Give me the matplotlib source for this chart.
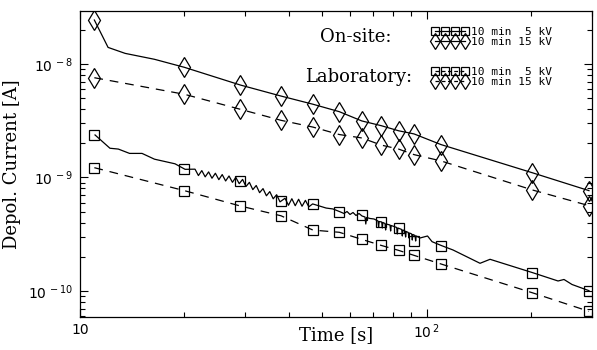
import matplotlib
matplotlib.use('Agg')
import matplotlib.pyplot as plt
from matplotlib.lines import Line2D
from matplotlib.ticker import FixedLocator, FixedFormatter, NullFormatter

# ---------------- data ----------------
t_mark = [11, 20, 29, 38, 47, 56, 65, 74, 83, 92, 110, 202, 294]

onsite_15kv = [2.44e-8, 9.35e-9, 6.53e-9, 5.22e-9, 4.42e-9, 3.80e-9, 3.15e-9,
               2.86e-9, 2.58e-9, 2.42e-9, 1.95e-9, 1.10e-9, 7.66e-10]
lab_15kv = [7.57e-9, 5.41e-9, 3.99e-9, 3.19e-9, 2.78e-9, 2.39e-9, 2.23e-9,
            1.93e-9, 1.78e-9, 1.59e-9, 1.40e-9, 7.76e-10, 5.65e-10]
onsite_5kv = [2.37e-9, 1.18e-9, 9.31e-10, 6.15e-10, 5.85e-10, 5.00e-10, 4.68e-10,
              4.08e-10, 3.57e-10, 2.76e-10, 2.50e-10, 1.45e-10, 1.00e-10]
lab_5kv = [1.22e-9, 7.66e-10, 5.61e-10, 4.60e-10, 3.44e-10, 3.29e-10, 2.85e-10,
           2.52e-10, 2.28e-10, 2.06e-10, 1.73e-10, 9.64e-11, 6.62e-11]

# extra early points of the continuous on-site 15 kV record
onsite_15kv_early_t = [12.05, 13.5, 16.4]
onsite_15kv_early_i = [1.40e-8, 1.24e-8, 1.10e-8]

# continuous on-site 5 kV record
onsite_5kv_line_t = [
    11.05, 12.2, 12.9, 13.9, 15.1, 16.4, 18.8, 20.1,
    21.47, 21.96, 22.46, 22.97, 23.50, 24.03, 24.58, 25.15, 25.72, 26.31,
    26.91, 27.53, 28.15, 28.80, 29.45, 30.12, 30.81, 31.52, 32.24, 32.97,
    33.73, 34.50, 35.28, 36.09, 36.92, 37.76,
    39.04, 39.94, 40.85, 41.78, 42.73, 43.71, 44.70, 45.72, 46.9,
    51.3, 53.7, 56.15, 57.77, 58.93, 60.12, 61.33, 62.56, 63.82, 65.10,
    66.41, 66.76, 67.12, 68.65, 70.50, 72.40, 72.68, 72.98, 74.21, 74.51,
    74.80, 75.86, 76.16, 76.46, 78.42, 78.73, 79.04, 80.52, 81.98, 82.31,
    82.64, 84.75, 85.09, 85.43, 86.63, 86.97, 87.32, 88.54, 88.89, 89.25,
    90.57, 90.92, 91.29, 92.58, 92.96, 93.33, 95.72, 100.6, 103.7, 110.6,
    119.2, 142.6, 152.4, 202.4, 239.4, 249.1, 262.7, 294.1]
onsite_5kv_line_i = [
    2.37e-9, 1.81e-9, 1.78e-9, 1.63e-9, 1.63e-9, 1.45e-9, 1.32e-9, 1.18e-9,
    1.184e-9, 1.040e-9, 1.150e-9, 1.013e-9, 1.120e-9, 9.85e-10, 1.090e-9,
    9.57e-10, 1.061e-9, 9.32e-10, 1.031e-9, 9.07e-10, 1.002e-9, 8.82e-10,
    9.62e-10, 8.33e-10, 9.06e-10, 7.82e-10, 8.50e-10, 7.35e-10, 7.98e-10,
    6.90e-10, 7.51e-10, 6.49e-10, 7.05e-10, 6.10e-10,
    6.56e-10, 5.69e-10, 6.50e-10, 5.64e-10, 6.43e-10, 5.58e-10, 6.29e-10,
    5.52e-10, 5.85e-10,
    5.38e-10, 5.28e-10, 5.00e-10, 4.818e-10, 5.016e-10, 4.721e-10, 4.916e-10,
    4.627e-10, 4.818e-10, 4.580e-10,
    4.487e-10, 3.892e-10, 4.442e-10, 4.353e-10, 4.309e-10, 4.137e-10, 3.663e-10,
    4.095e-10, 4.054e-10, 3.589e-10, 4.013e-10, 3.932e-10, 3.447e-10, 3.892e-10,
    3.814e-10, 3.378e-10, 3.775e-10, 3.700e-10, 3.626e-10, 3.178e-10, 3.589e-10,
    3.482e-10, 3.052e-10, 3.447e-10, 3.378e-10, 2.990e-10, 3.343e-10, 3.276e-10,
    2.931e-10, 3.243e-10, 3.178e-10, 2.813e-10, 3.146e-10, 3.083e-10, 2.757e-10,
    3.052e-10, 2.931e-10, 3.052e-10, 2.718e-10, 2.506e-10,
    2.297e-10, 1.754e-10, 1.902e-10, 1.449e-10, 1.225e-10, 1.263e-10, 1.141e-10,
    1.006e-10]

xtick_vals = [10, 100]
xtick_labels = ['10', r'$10^{\,2}$']
ytick_vals = [1e-10, 1e-9, 1e-8]
ytick_labels = [r'$10^{\,-10}$', r'$10^{\,-9}$', r'$10^{\,-8}$']

legend_labels = ['10 min  5 kV', '10 min 15 kV']

# ---------------- figure ----------------
fig = plt.figure(figsize=(5.97, 3.5), dpi=100)
ax = fig.add_axes([80 / 597, 33 / 350, 512 / 597, 306 / 350])
ax.set_xscale('log')
ax.set_yscale('log')
ax.set_xlim(10, 300)
ax.set_ylim(5.9e-11, 2.93e-8)

lw = 0.9
dash = (0, (7, 5.5))
sq = dict(marker='s', ms=7.2, mfc='none', mec='k', mew=0.9)
dm = dict(marker='d', ms=10.5, mfc='none', mec='k', mew=0.9)

# on-site (solid)
ax.plot([t_mark[0]] + onsite_15kv_early_t + t_mark[1:],
        [onsite_15kv[0]] + onsite_15kv_early_i + onsite_15kv[1:],
        color='k', lw=lw, ls='-')
ax.plot(t_mark, onsite_15kv, ls='none', **dm)
ax.plot(onsite_5kv_line_t, onsite_5kv_line_i, color='k', lw=lw, ls='-')
ax.plot(t_mark, onsite_5kv, ls='none', **sq)

# laboratory (dashed)
ax.plot(t_mark, lab_15kv, color='k', lw=lw, ls=dash, **dm)
ax.plot(t_mark, lab_5kv, color='k', lw=lw, ls=dash, **sq)

# ticks
ax.xaxis.set_major_locator(FixedLocator(xtick_vals))
ax.xaxis.set_major_formatter(FixedFormatter(xtick_labels))
ax.yaxis.set_major_locator(FixedLocator(ytick_vals))
ax.yaxis.set_major_formatter(FixedFormatter(ytick_labels))
ax.xaxis.set_minor_formatter(NullFormatter())
ax.yaxis.set_minor_formatter(NullFormatter())
ax.tick_params(which='both', direction='in', top=True, right=True, width=0.8)
ax.tick_params(which='major', length=6)
ax.tick_params(which='minor', length=3.5)
ax.tick_params(axis='x', which='major', pad=4, labelsize=10)
ax.tick_params(axis='y', which='major', pad=5, labelsize=10)
for s in ax.spines.values():
    s.set_linewidth(0.9)

serif = ['DejaVu Serif']
ax.set_xlabel('Time [s]', fontsize=13, family=serif)
ax.xaxis.set_label_coords(0.5, -0.028)
ax.xaxis.label.set_va('top')
ax.set_ylabel('Depol. Current [A]', fontsize=13, family=serif)
ax.yaxis.set_label_coords(-0.115, 0.5)

# legends
fs_leg = 8
mono = {'family': 'DejaVu Sans Mono', 'size': fs_leg}
h_on = [Line2D([], [], color='k', lw=lw, ls='-', **sq),
        Line2D([], [], color='k', lw=lw, ls='-', **dm)]
h_lab = [Line2D([], [], color='k', lw=lw, ls=(0, (3, 2)), **sq),
         Line2D([], [], color='k', lw=lw, ls=(0, (3, 2)), **dm)]
leg_kw = dict(frameon=False, numpoints=4, handlelength=3.3, handletextpad=0.3,
              borderpad=0, borderaxespad=0, labelspacing=0.0, prop=mono,
              markerscale=0.75, loc='center left')
leg1 = ax.legend(h_on, legend_labels, bbox_to_anchor=(0.6865, 0.915), **leg_kw)
ax.add_artist(leg1)
ax.legend(h_lab, legend_labels, bbox_to_anchor=(0.6865, 0.784), **leg_kw)

ax.text(0.469, 0.916, 'On-site:', transform=ax.transAxes, fontsize=13,
        family=serif, ha='left', va='center')
ax.text(0.439, 0.785, 'Laboratory:', transform=ax.transAxes, fontsize=13,
        family=serif, ha='left', va='center')

fig.savefig('out.png', dpi=100, facecolor='white')
